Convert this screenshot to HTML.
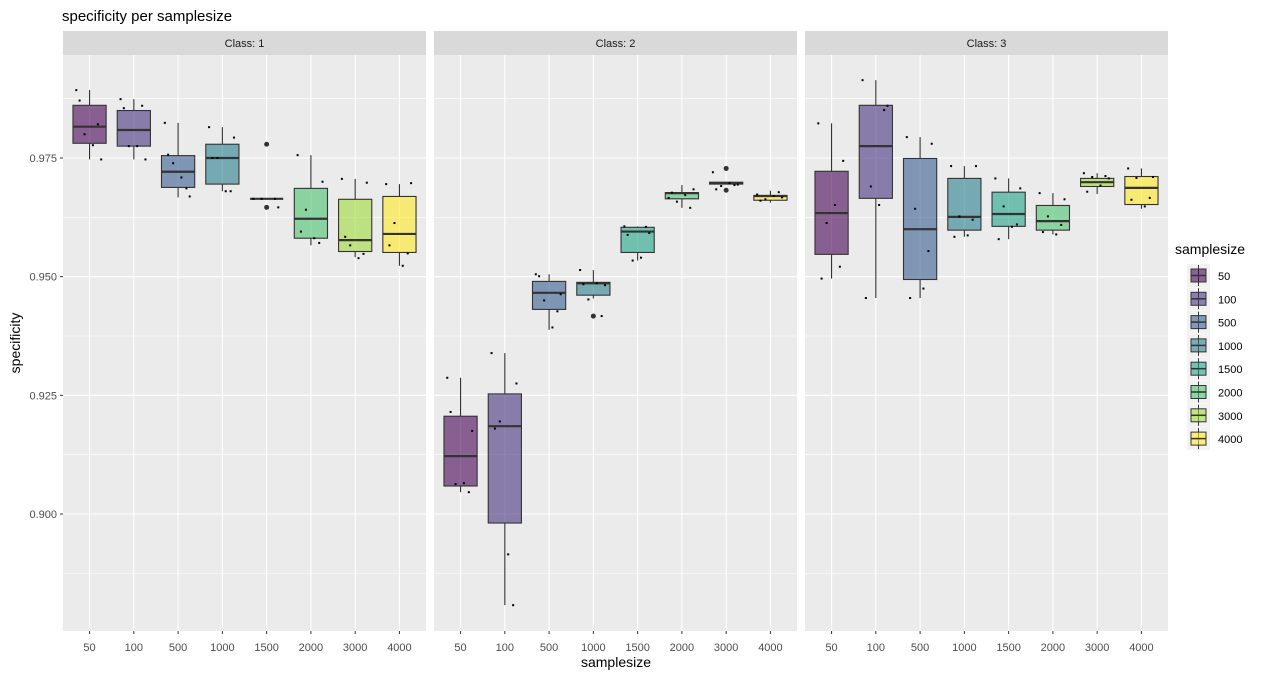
<!DOCTYPE html>
<html><head><meta charset="utf-8"><style>
body{margin:0;background:#fff;font-family:"Liberation Sans",sans-serif;}
svg text{font-family:"Liberation Sans",sans-serif;}
</style></head><body>
<svg id="c" width="1280" height="677" xmlns="http://www.w3.org/2000/svg"></svg>
<script>
const categories=["50","100","500","1000","1500","2000","3000","4000"];
const panels=["Class: 1","Class: 2","Class: 3"];
const yTicks=[0.900,0.925,0.950,0.975];
const yTickLabels=["0.900","0.925","0.950","0.975"];
// [whiskerLow, q1, median, q3, whiskerHigh]
const class1Stats=[[0.9747,0.9781,0.9816,0.9861,0.9893],[0.9747,0.9775,0.9809,0.9850,0.9874],[0.9667,0.9688,0.9721,0.9755,0.9824],[0.9680,0.9695,0.9750,0.9779,0.9815],[0.9664,0.9664,0.9664,0.9664,0.9664],[0.9566,0.9581,0.9622,0.9686,0.9756],[0.9541,0.9553,0.9577,0.9663,0.9706],[0.9523,0.9551,0.9590,0.9669,0.9695]];
const class2Stats=[[0.9046,0.9059,0.9122,0.9206,0.9287],[0.8808,0.8981,0.9185,0.9253,0.9339],[0.9388,0.9431,0.9466,0.9490,0.9505],[0.9454,0.9461,0.9486,0.9488,0.9514],[0.9534,0.9551,0.9595,0.9604,0.9606],[0.9645,0.9664,0.9676,0.9677,0.9693],[0.9695,0.9695,0.9697,0.9699,0.9699],[0.9656,0.9661,0.9670,0.9671,0.9681]];
const class3Stats=[[0.9496,0.9547,0.9634,0.9722,0.9823],[0.9455,0.9665,0.9775,0.9861,0.9914],[0.9455,0.9494,0.9600,0.9749,0.9794],[0.9584,0.9598,0.9626,0.9707,0.9733],[0.9579,0.9606,0.9632,0.9678,0.9707],[0.9589,0.9598,0.9617,0.9650,0.9676],[0.9674,0.9690,0.9699,0.9707,0.9718],[0.9643,0.9652,0.9687,0.9711,0.9728]];
const class1Outliers=[[],[],[],[],[0.9779,0.9646],[],[],[]];
const class2Outliers=[[],[],[],[0.9417],[],[],[0.9728,0.9682],[]];
const class3Outliers=[[],[],[],[],[],[],[],[]];
const class1Points=[[0.9893,0.9747,0.9800,0.9821,0.9871,0.9777],[0.9874,0.9747,0.9775,0.9860,0.9855,0.9775],[0.9824,0.9669,0.9739,0.9686,0.9757,0.9709],[0.9815,0.9793,0.9750,0.9680,0.9750,0.9680],[0.9664,0.9646,0.9664,0.9664],[0.9756,0.9700,0.9641,0.9571,0.9595,0.9581],[0.9706,0.9698,0.9566,0.9548,0.9584,0.9539],[0.9695,0.9697,0.9613,0.9549,0.9566,0.9523]];
const class2Points=[[0.9287,0.9175,0.9063,0.9046,0.9215,0.9065],[0.9339,0.9275,0.9195,0.8808,0.9180,0.8915],[0.9505,0.9463,0.9450,0.9427,0.9501,0.9393],[0.9514,0.9482,0.9452,0.9417,0.9484,0.9486],[0.9606,0.9592,0.9534,0.9605,0.9588,0.9540],[0.9666,0.9684,0.9658,0.9645,0.9677,0.9672],[0.9720,0.9694,0.9691,0.9693,0.9684,0.9697],[0.9673,0.9667,0.9663,0.9678,0.9660,0.9670]];
const class3Points=[[0.9823,0.9744,0.9613,0.9521,0.9496,0.9651],[0.9914,0.9860,0.9690,0.9851,0.9455,0.9651],[0.9794,0.9780,0.9643,0.9554,0.9455,0.9475],[0.9733,0.9733,0.9627,0.9620,0.9584,0.9587],[0.9707,0.9686,0.9648,0.9610,0.9579,0.9605],[0.9676,0.9663,0.9627,0.9609,0.9594,0.9589],[0.9718,0.9707,0.9710,0.9712,0.9679,0.9692],[0.9728,0.9710,0.9708,0.9666,0.9662,0.9648]];
const stats=[class1Stats,class2Stats,class3Stats];
const outliers=[class1Outliers,class2Outliers,class3Outliers];
const points=[class1Points,class2Points,class3Points];
const colors=["#440154","#46337E","#365C8D","#277F8E","#1FA187","#4AC16D","#9FDA3A","#FDE725"];
const jit=[-0.4,0.35,-0.15,0.25,-0.3,0.1];

const NS="http://www.w3.org/2000/svg";
const svg=document.getElementById("c");
function mk(tag,attrs,parent){const e=document.createElementNS(NS,tag);for(const k in attrs)e.setAttribute(k,attrs[k]);(parent||svg).appendChild(e);return e;}
const plotTop=55,plotBot=631;
function y(v){return 158+(0.975-v)/0.025*118.67;}
const panelX=[63,434,805],pw=363;
function x(p,i){return panelX[p]+pw/8.2*(0.6+i);}
const bw=pw/8.2*0.75;

let t=mk("text",{x:62,y:21,"font-size":15,fill:"#000"});t.textContent="specificity per samplesize";



for(let p=0;p<3;p++){
  const g=mk("g",{});
  
  
  mk("rect",{x:panelX[p],y:plotTop,width:pw,height:plotBot-plotTop,fill:"#EBEBEB"},g);
  const st=mk("rect",{x:panelX[p],y:31,width:pw,height:24,fill:"#D9D9D9"},g);
  
  
  const sl=mk("text",{x:panelX[p]+pw/2,y:47,"font-size":11,fill:"#1A1A1A","text-anchor":"middle"},g);sl.textContent=panels[p];
  
  
  for(let k=0;k<yTicks.length+1;k++){const v=0.8875+k*0.025;const yy=y(v);if(yy>plotTop&&yy<plotBot)mk("line",{x1:panelX[p],x2:panelX[p]+pw,y1:yy,y2:yy,stroke:"#fff","stroke-width":0.55},g);}
  yTicks.forEach(v=>mk("line",{x1:panelX[p],x2:panelX[p]+pw,y1:y(v),y2:y(v),stroke:"#fff","stroke-width":1.1},g));
  categories.forEach((c,i)=>mk("line",{x1:x(p,i),x2:x(p,i),y1:plotTop,y2:plotBot,stroke:"#fff","stroke-width":1.1},g));
  categories.forEach((c,i)=>{
    const s=stats[p][i];const cx=x(p,i);
    const bx=mk("g",{},g);
    
    
    mk("line",{x1:cx,x2:cx,y1:y(s[0]),y2:y(s[1]),stroke:"#333","stroke-width":1.1},bx);
    mk("line",{x1:cx,x2:cx,y1:y(s[3]),y2:y(s[4]),stroke:"#333","stroke-width":1.1},bx);
    mk("rect",{x:cx-bw/2,y:y(s[3]),width:bw,height:Math.max(0,y(s[1])-y(s[3])),fill:colors[i],"fill-opacity":0.6,stroke:"#333","stroke-width":1.1},bx);
    mk("line",{x1:cx-bw/2,x2:cx+bw/2,y1:y(s[2]),y2:y(s[2]),stroke:"#333","stroke-width":2.2},bx);
    outliers[p][i].forEach(v=>mk("circle",{cx:cx,cy:y(v),r:2.5,fill:"#333"},bx));
    points[p][i].forEach((v,k)=>mk("rect",{x:cx+jit[k%6]*bw-1,y:y(v)-1,width:2,height:2,fill:"#000"},bx));
  });
  categories.forEach((c,i)=>{
    mk("line",{x1:x(p,i),x2:x(p,i),y1:plotBot,y2:plotBot+3,stroke:"#333"},g);
    const tl=mk("text",{x:x(p,i),y:651,"font-size":11,fill:"#4D4D4D","text-anchor":"middle"},g);tl.textContent=c;
    
    
  });
}
yTicks.forEach((v,k)=>{
  mk("line",{x1:60,x2:63,y1:y(v),y2:y(v),stroke:"#333"});
  const tl=mk("text",{x:57,y:y(v)+4,"font-size":11,fill:"#4D4D4D","text-anchor":"end"});tl.textContent=yTickLabels[k];
  
  
});
t=mk("text",{x:616,y:667,"font-size":14,fill:"#000","text-anchor":"middle"});t.textContent="samplesize";


t=mk("text",{x:0,y:0,"font-size":14,fill:"#000","text-anchor":"middle",transform:"translate(20,343) rotate(-90)"});t.textContent="specificity";


t=mk("text",{x:1175,y:254,"font-size":14,fill:"#000"});t.textContent="samplesize";


categories.forEach((c,i)=>{
  const yy=264+i*23.3;
  const lg=mk("g",{});
  
  
  mk("rect",{x:1187,y:yy,width:23,height:23,fill:"#F2F2F2"},lg);
  mk("line",{x1:1198.5,x2:1198.5,y1:yy+1,y2:yy+22,stroke:"#333"},lg);
  mk("rect",{x:1191,y:yy+5,width:15,height:13,fill:colors[i],"fill-opacity":0.6,stroke:"#333"},lg);
  mk("line",{x1:1191,x2:1206,y1:yy+11.5,y2:yy+11.5,stroke:"#333","stroke-width":1.5},lg);
  const lt=mk("text",{x:1218,y:yy+16,"font-size":11,fill:"#000"},lg);lt.textContent=c;
});
</script>
</body></html>
